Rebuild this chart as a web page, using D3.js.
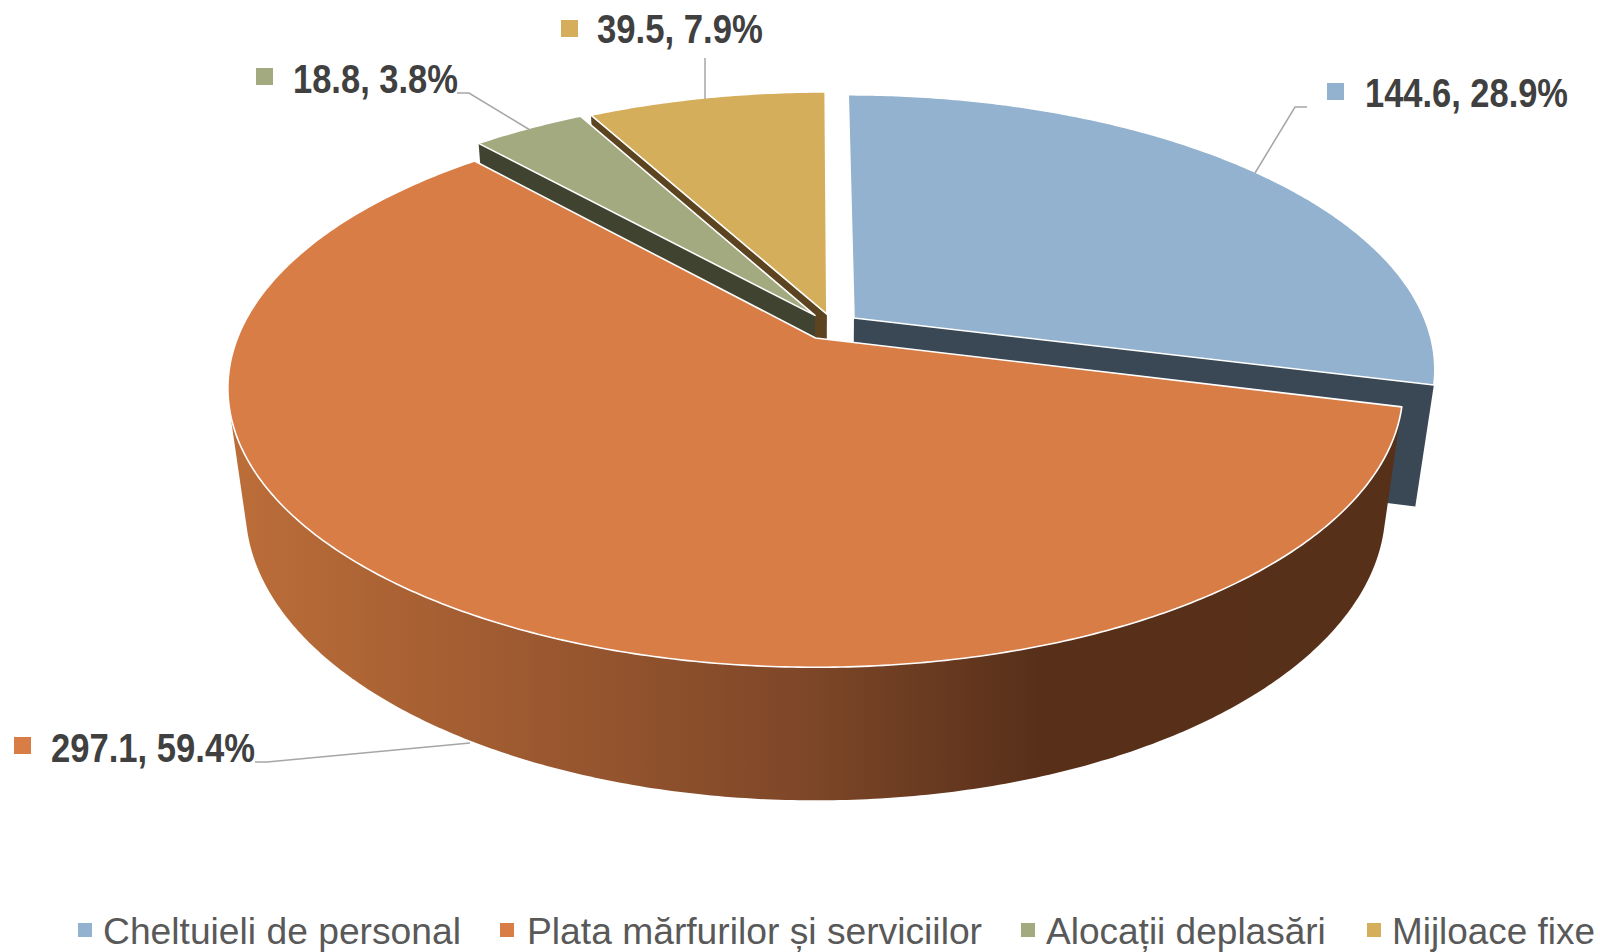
<!DOCTYPE html>
<html><head><meta charset="utf-8">
<script src="https://cdn.jsdelivr.net/npm/d3@7"></script>
<style>html,body{margin:0;padding:0;background:#fff}svg{display:block}</style>
</head><body><svg id="c" width="1600" height="952"></svg>
<script>
const categories = ["Cheltuieli de personal","Plata mărfurilor și serviciilor","Alocații deplasări","Mijloace fixe"];
const values = [144.6,297.1,18.8,39.5];
const percents = ["28.9%","59.4%","3.8%","7.9%"];
const colors = ["#92b2cf","#d97d46","#a3aa80","#d5ae5b"];
const cutColors = ["#3a4755","#5a3019","#40432f","#5c4420"];
// explosion of each slice, in units of the pie radius
const explodeX = [0.0675,0,-0.001,0.02];
const explodeY = [0.0751,0,0.085,0.09];
// label layout: [text left, text right, baseline, marker left, marker top]
const labelLayout = [[1365,1568,107,1327,83],[51,255,762,14,737],[293,458,93,256,68],[597,763,43,561,20]];
const leaders = [[[1307,107],[1295,107],[1255,173]],[[255,762],[267,762],[470,743]],[[457,93],[469,93],[530,130]],[[705,58],[705,99]]];
const legendLayout = [[78,103,461],[500,527,982],[1021,1046,1326],[1367,1392,1595]];

const svg = d3.select("#c");
const X0=815.5,Y0=338,R=578,RT=270,K=0.18,M=0.03,H=123;
function project(u,v,z){
  const w=1+K*v+M*z;
  return [X0+R*u/w, Y0+(-RT*v+H*z)/w];
}
const pie=d3.pie().sort(null).value(d=>d).startAngle(0).endAngle(2*Math.PI);
const arcs=pie(values);
const line=d3.line();
function rim(i,a0,a1,z){
  const n=Math.max(2,Math.ceil(Math.abs(a1-a0)/0.01));
  return d3.range(n+1).map(j=>{
    const a=a0+(a1-a0)*j/n;
    return project(Math.sin(a)+explodeX[i],Math.cos(a)+explodeY[i],z);
  });
}
function apex(i,z){return project(explodeX[i],explodeY[i],z);}
function topFace(i){const a=arcs[i];return line([apex(i,0),...rim(i,a.startAngle,a.endAngle,0)])+"Z";}
function cutFace(i,ang){
  const e=rim(i,ang,ang,0)[0],b=rim(i,ang,ang,1)[0];
  return line([apex(i,0),e,b,apex(i,1)])+"Z";
}
const defs=svg.append("defs");
const grad=defs.append("linearGradient").attr("id","wall").attr("gradientUnits","userSpaceOnUse")
  .attr("x1",230).attr("x2",1400).attr("y1",0).attr("y2",0);
[[0,"#bc6e39"],[0.23,"#a05b31"],[0.49,"#7e4728"],[0.69,"#58301a"],[1,"#57301a"]]
  .forEach(s=>grad.append("stop").attr("offset",s[0]).attr("stop-color",s[1]));

const g=svg.append("g");
function face(d,fill,stroke){
  g.append("path").attr("d",d).attr("fill",fill)
   .attr("stroke",stroke||"none").attr("stroke-width",stroke?1.6:0).attr("stroke-linejoin","round");
}
// back slices first
face(cutFace(3,arcs[3].startAngle),cutColors[3]);
face(topFace(3),colors[3],"#fff");
face(cutFace(2,arcs[2].startAngle),cutColors[2]);
face(topFace(2),colors[2],"#fff");
face(cutFace(0,arcs[0].endAngle),cutColors[0]);
face(topFace(0),colors[0],"#fff");
// orange wall: hull of the top and bottom rims, then the top face
const a1=arcs[1];
const wallEnd=a1.startAngle+(a1.endAngle-a1.startAngle)*0.8;
const hull=d3.polygonHull([...rim(1,a1.startAngle,wallEnd,0),...rim(1,a1.startAngle,wallEnd,1)]);
face(line(hull)+"Z","url(#wall)");
face(topFace(1),colors[1],"#fff");

// leader lines
g.selectAll("path.leader").data(leaders).join("path").attr("class","leader")
  .attr("d",d=>line(d)).attr("fill","none").attr("stroke","#a6a6a6").attr("stroke-width",1.5);

// text squeezed horizontally to a target span
function fitText(sel,x0,x1,y){
  const w=sel.node().getComputedTextLength();
  sel.attr("transform",`translate(${x0},${y}) scale(${(x1-x0)/w},1)`);
}
// data labels
values.forEach((v,i)=>{
  const L=labelLayout[i];
  svg.append("rect").attr("x",L[3]).attr("y",L[4]).attr("width",17).attr("height",17).attr("fill",colors[i]);
  const t=svg.append("text")
    .attr("font-family","'Liberation Sans',Arial,sans-serif")
    .attr("font-weight","bold").attr("font-size",41).attr("fill","#404040")
    .text(v.toFixed(1)+", "+percents[i]);
  fitText(t,L[0],L[1],L[2]);
});
// legend
categories.forEach((c,i)=>{
  const L=legendLayout[i];
  svg.append("rect").attr("x",L[0]).attr("y",923).attr("width",14).attr("height",14).attr("fill",colors[i]);
  const t=svg.append("text")
    .attr("font-family","'Liberation Sans',Arial,sans-serif").attr("font-size",37).attr("fill","#595959")
    .text(c);
  fitText(t,L[1],L[2],944);
});
</script></body></html>
